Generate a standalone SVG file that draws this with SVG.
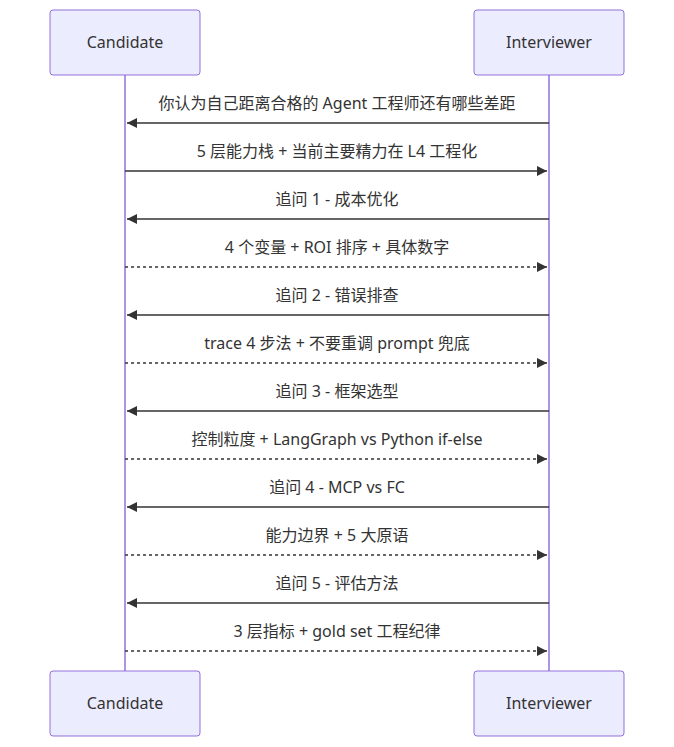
<svg xmlns="http://www.w3.org/2000/svg" width="674" height="747" viewBox="0 0 674 747">
<style>
.box{fill:#ECECFF;stroke:#9370DB;stroke-width:1}
.life{stroke:#9370DB;stroke-width:1.5}
.t{font-family:"Noto Sans","Noto Sans CJK SC",sans-serif;font-size:16px;fill:#333;text-anchor:middle}
.m{stroke:#333;stroke-width:1.5;fill:none}
.d{stroke-dasharray:3,3}
</style>
<defs><marker id="a" markerWidth="12" markerHeight="12" refX="10" refY="5" orient="auto" markerUnits="userSpaceOnUse"><path d="M0,0L10,5L0,10z" fill="#333"/></marker></defs>
<g id="lifelines"><line class="life" x1="125" y1="75" x2="125" y2="671"/><line class="life" x1="549" y1="75" x2="549" y2="671"/></g>
<g id="candidate-top"><rect class="box" x="50" y="10" width="150" height="65" rx="3"/><text class="t" x="125" y="48">Candidate</text></g>
<g id="interviewer-top"><rect class="box" x="474" y="10" width="150" height="65" rx="3"/><text class="t" x="549" y="48">Interviewer</text></g>
<g id="candidate-bottom"><rect class="box" x="50" y="671" width="150" height="65" rx="3"/><text class="t" x="125" y="709">Candidate</text></g>
<g id="interviewer-bottom"><rect class="box" x="474" y="671" width="150" height="65" rx="3"/><text class="t" x="549" y="709">Interviewer</text></g>
<g id="connectors">
<line class="m" x1="549" y1="123" x2="127" y2="123" marker-end="url(#a)"/>
<line class="m" x1="125" y1="171" x2="547" y2="171" marker-end="url(#a)"/>
<line class="m" x1="549" y1="219" x2="127" y2="219" marker-end="url(#a)"/>
<line class="m d" x1="125" y1="267" x2="547" y2="267" marker-end="url(#a)"/>
<line class="m" x1="549" y1="315" x2="127" y2="315" marker-end="url(#a)"/>
<line class="m d" x1="125" y1="363" x2="547" y2="363" marker-end="url(#a)"/>
<line class="m" x1="549" y1="411" x2="127" y2="411" marker-end="url(#a)"/>
<line class="m d" x1="125" y1="459" x2="547" y2="459" marker-end="url(#a)"/>
<line class="m" x1="549" y1="507" x2="127" y2="507" marker-end="url(#a)"/>
<line class="m d" x1="125" y1="555" x2="547" y2="555" marker-end="url(#a)"/>
<line class="m" x1="549" y1="603" x2="127" y2="603" marker-end="url(#a)"/>
<line class="m d" x1="125" y1="651" x2="547" y2="651" marker-end="url(#a)"/>
</g>
<g id="labels">
<text class="t" x="337" y="109">你认为自己距离合格的 Agent 工程师还有哪些差距</text>
<text class="t" x="337" y="157">5 层能力栈 + 当前主要精力在 L4 工程化</text>
<text class="t" x="337" y="205">追问 1 - 成本优化</text>
<text class="t" x="337" y="253">4 个变量 + ROI 排序 + 具体数字</text>
<text class="t" x="337" y="301">追问 2 - 错误排查</text>
<text class="t" x="337" y="349">trace 4 步法 + 不要重调 prompt 兜底</text>
<text class="t" x="337" y="397">追问 3 - 框架选型</text>
<text class="t" x="337" y="445">控制粒度 + LangGraph vs Python if-else</text>
<text class="t" x="337" y="493">追问 4 - MCP vs FC</text>
<text class="t" x="337" y="541">能力边界 + 5 大原语</text>
<text class="t" x="337" y="589">追问 5 - 评估方法</text>
<text class="t" x="337" y="637">3 层指标 + gold set 工程纪律</text>
</g>
</svg>
